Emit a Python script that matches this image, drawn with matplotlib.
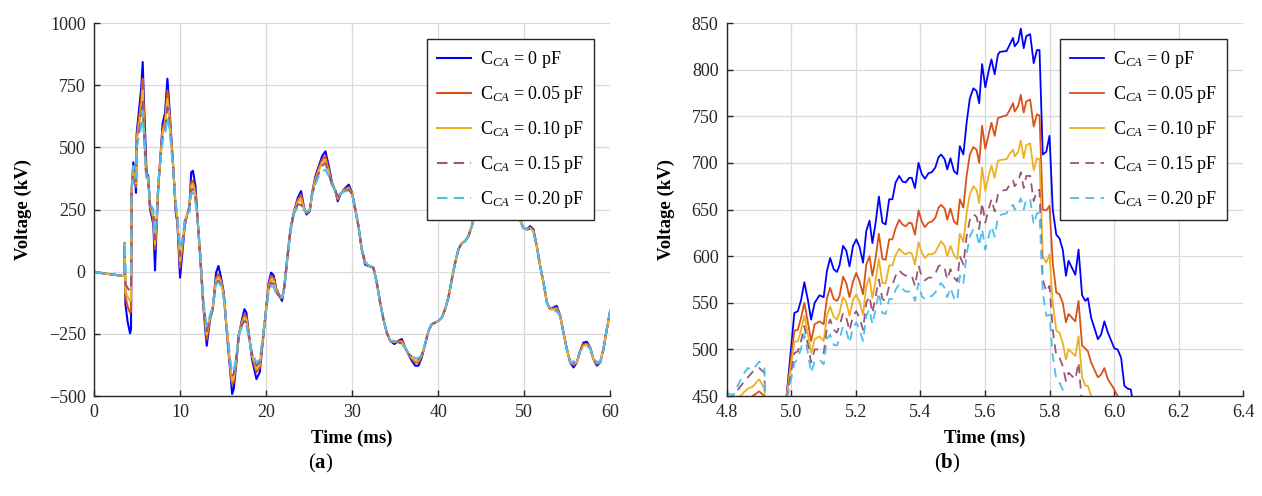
import numpy as np
import matplotlib
matplotlib.use("Agg")
import matplotlib.pyplot as plt

plt.rcParams['font.family'] = ['Liberation Serif', 'DejaVu Serif']
plt.rcParams['mathtext.fontset'] = 'custom'
plt.rcParams['mathtext.rm'] = 'Liberation Serif'
plt.rcParams['mathtext.it'] = 'Liberation Serif:italic'
plt.rcParams['mathtext.bf'] = 'Liberation Serif:bold'
plt.rcParams['axes.unicode_minus'] = True

######################################################################
# (a) full record, time in ms, voltage in kV
T_A = [0.0, 1.1, 3.4, 3.5, 3.57, 3.65, 3.9, 4.19, 4.3, 4.38,
       4.57, 4.75, 4.88, 4.96, 5.16, 5.35, 5.5, 5.66, 5.78, 6.0,
       6.11, 6.3, 6.51, 6.7, 6.9, 7.09, 7.28, 7.48, 7.75, 7.98,
       8.26, 8.53, 8.76, 8.95, 9.23, 9.5, 9.69, 10.0, 10.27, 10.54,
       10.78, 11.09, 11.3, 11.5, 11.79, 12.0, 12.33, 12.7, 13.1, 13.49,
       13.8, 14.19, 14.46, 14.73, 15.08, 15.47, 15.85, 16.05, 16.24, 16.55,
       16.82, 17.21, 17.48, 17.71, 17.98, 18.37, 18.88, 19.26, 19.65, 20.04,
       20.31, 20.58, 20.89, 21.2, 21.59, 21.86, 22.13, 22.44, 22.83, 23.22,
       23.68, 24.07, 24.38, 24.69, 25.08, 25.35, 25.74, 26.12, 26.51, 26.9,
       27.29, 27.67, 28.06, 28.33, 28.64, 29.03, 29.61, 30.0, 30.39, 30.74,
       31.12, 31.51, 31.9, 32.48, 32.87, 33.26, 33.64, 34.03, 34.42, 34.92,
       35.39, 35.78, 36.16, 36.55, 36.94, 37.33, 37.71, 38.1, 38.49, 38.88,
       39.26, 39.65, 40.04, 40.43, 40.81, 41.2, 41.59, 41.98, 42.36, 42.75,
       43.14, 43.53, 43.91, 44.3, 45.0, 46.0, 47.0, 48.0, 49.0, 49.53,
       49.9, 50.3, 50.7, 51.08, 51.47, 51.86, 52.25, 52.64, 53.02, 53.41,
       53.8, 54.19, 54.57, 54.96, 55.35, 55.74, 56.12, 56.51, 56.9, 57.29,
       57.67, 58.06, 58.45, 58.84, 59.22, 59.61, 60.0]

V_A_000 = [0, -7, -17, -18, 115, -130, -200, -248, -230, 330,
           440, 384, 317, 557, 624, 691, 745, 843, 709, 501,
           397, 384, 250, 223, 190, 5, 183, 344, 477, 598,
           638, 776, 664, 557, 410, 237, 197, -24, 76, 183,
           223, 263, 400, 406, 344, 237, 63, -138, -298, -191,
           -151, -4, 23, -17, -84, -258, -405, -492, -472, -365,
           -258, -191, -151, -164, -245, -352, -432, -405, -271, -138,
           -44, -4, -15, -71, -98, -118, -57, 49, 170, 237,
           297, 324, 263, 230, 243, 317, 384, 424, 464, 484,
           424, 357, 324, 283, 310, 330, 350, 317, 250, 183,
           90, 29, 23, 16, -44, -124, -191, -245, -278, -291,
           -278, -271, -305, -332, -358, -378, -378, -345, -291, -238,
           -211, -205, -198, -184, -151, -104, -31, 36, 90, 114,
           123, 143, 183, 237, 300, 380, 420, 380, 270, 210,
           176, 170, 183, 170, 103, 23, -44, -124, -151, -144,
           -138, -178, -245, -311, -365, -385, -365, -318, -285, -282,
           -305, -352, -378, -365, -311, -231, -158]

V_A_005 = [0, -7, -17, -18, 112, -100, -140, -165, -160, 330,
           425, 395, 340, 540, 600, 650, 700, 776, 650, 455,
           390, 380, 260, 235, 210, 90, 200, 350, 470, 575,
           610, 729, 640, 545, 405, 250, 205, 16, 95, 190,
           225, 255, 360, 366, 320, 230, 70, -130, -273, -185,
           -150, -25, -10, -30, -90, -250, -390, -452, -445, -355,
           -255, -200, -171, -180, -250, -340, -405, -385, -265, -140,
           -55, -17, -25, -75, -98, -105, -60, 45, 168, 237,
           290, 310, 260, 235, 245, 315, 375, 415, 450, 464,
           410, 352, 325, 290, 312, 328, 340, 315, 248, 183,
           90, 35, 25, 16, -44, -124, -191, -245, -278, -285,
           -280, -278, -305, -332, -350, -365, -365, -340, -291, -238,
           -211, -205, -198, -184, -151, -104, -31, 36, 90, 114,
           123, 143, 183, 237, 295, 370, 410, 370, 265, 208,
           176, 170, 178, 165, 103, 23, -44, -124, -151, -148,
           -145, -178, -245, -311, -365, -375, -365, -318, -292, -290,
           -305, -352, -372, -365, -311, -231, -158]

V_A_010 = [0, -7, -17, -18, 112, -80, -100, -118, -115, 330,
           425, 398, 355, 525, 575, 615, 660, 729, 600, 430,
           385, 375, 265, 245, 225, 110, 210, 355, 465, 560,
           590, 695, 620, 535, 400, 260, 212, 43, 110, 195,
           228, 250, 345, 352, 305, 225, 75, -125, -253, -180,
           -148, -35, -23, -40, -95, -245, -380, -439, -430, -350,
           -255, -208, -184, -192, -255, -335, -392, -375, -262, -142,
           -65, -31, -38, -80, -100, -104, -62, 42, 165, 235,
           280, 290, 255, 238, 246, 312, 368, 405, 438, 450,
           400, 350, 326, 295, 314, 326, 335, 313, 246, 183,
           90, 38, 25, 16, -44, -124, -191, -245, -278, -282,
           -282, -285, -305, -332, -345, -358, -358, -338, -291, -238,
           -211, -205, -198, -184, -151, -104, -31, 36, 90, 114,
           123, 143, 183, 237, 290, 365, 400, 365, 262, 206,
           176, 170, 175, 162, 103, 23, -44, -124, -151, -152,
           -150, -178, -245, -311, -365, -370, -365, -318, -298, -295,
           -305, -352, -368, -365, -311, -231, -158]

V_A_015 = [0, -7, -17, -18, 112, -50, -65, -78, -75, 330,
           425, 400, 365, 510, 555, 585, 630, 688, 575, 415,
           380, 372, 270, 255, 240, 130, 220, 355, 460, 545,
           570, 662, 600, 525, 395, 268, 218, 63, 120, 200,
           230, 245, 330, 332, 295, 220, 80, -120, -239, -178,
           -146, -45, -37, -50, -100, -240, -370, -418, -412, -345,
           -255, -215, -198, -205, -260, -330, -378, -365, -260, -145,
           -72, -44, -50, -85, -102, -104, -64, 40, 163, 233,
           270, 270, 250, 240, 248, 310, 360, 395, 425, 437,
           392, 348, 327, 300, 315, 324, 330, 311, 244, 183,
           90, 40, 25, 16, -44, -124, -191, -245, -278, -280,
           -284, -290, -305, -332, -340, -352, -352, -336, -291, -238,
           -211, -205, -198, -184, -151, -104, -31, 36, 90, 114,
           123, 143, 183, 237, 285, 360, 395, 360, 260, 204,
           176, 170, 172, 160, 103, 23, -44, -124, -151, -155,
           -155, -178, -245, -311, -365, -365, -365, -318, -302, -300,
           -305, -352, -365, -365, -311, -231, -158]

V_A_020 = [0, -7, -17, -18, 115, -5, -8, -10, -8, 330,
           425, 402, 375, 495, 535, 560, 600, 648, 561, 400,
           378, 370, 275, 262, 250, 150, 230, 355, 455, 530,
           550, 621, 580, 515, 390, 275, 224, 90, 130, 205,
           232, 240, 315, 319, 285, 215, 85, -115, -219, -175,
           -145, -50, -44, -55, -105, -235, -360, -405, -400, -340,
           -255, -222, -211, -215, -265, -325, -365, -355, -258, -148,
           -80, -57, -62, -90, -105, -102, -66, 38, 160, 230,
           260, 257, 248, 242, 250, 308, 352, 385, 405, 410,
           385, 346, 328, 305, 316, 322, 325, 310, 242, 183,
           90, 42, 25, 16, -44, -124, -191, -245, -278, -278,
           -286, -295, -305, -332, -336, -348, -348, -334, -291, -238,
           -211, -205, -198, -184, -151, -104, -31, 36, 90, 114,
           123, 143, 183, 237, 280, 355, 390, 355, 258, 202,
           176, 170, 170, 158, 103, 23, -44, -124, -151, -158,
           -160, -178, -245, -311, -365, -360, -365, -318, -306, -305,
           -305, -352, -362, -365, -311, -231, -158]

######################################################################
# (b) zoom on the first peak
T_B = [4.80, 4.82, 4.85, 4.865, 4.88, 4.90, 4.916, 4.925, 4.96, 4.985,
       5.009, 5.020, 5.030, 5.040, 5.051, 5.061, 5.072, 5.087, 5.100, 5.110,
       5.120, 5.131, 5.141, 5.149, 5.160, 5.170, 5.180, 5.191, 5.201, 5.211,
       5.222, 5.232, 5.242, 5.251, 5.261, 5.271, 5.282, 5.292, 5.303, 5.313,
       5.323, 5.334, 5.344, 5.354, 5.365, 5.373, 5.383, 5.394, 5.404, 5.414,
       5.425, 5.435, 5.446, 5.456, 5.464, 5.475, 5.483, 5.493, 5.504, 5.514,
       5.522, 5.533, 5.543, 5.553, 5.564, 5.574, 5.582, 5.591, 5.601, 5.611,
       5.620, 5.630, 5.640, 5.646, 5.667, 5.677, 5.687, 5.692, 5.703, 5.711,
       5.720, 5.728, 5.740, 5.751, 5.761, 5.769, 5.779, 5.790, 5.800, 5.810,
       5.821, 5.831, 5.841, 5.851, 5.859, 5.880, 5.890, 5.901, 5.911, 5.919,
       5.929, 5.950, 5.960, 5.970, 5.981, 6.001, 6.011, 6.022, 6.032, 6.042,
       6.052, 6.060]

V_B_000 = [420, 424, 430, 434, 437, 440, 436, 380, 380, 450,
           539, 541, 553, 572, 553, 532, 550, 558, 556, 584,
           598, 586, 583, 590, 611, 606, 589, 611, 618, 610,
           593, 627, 638, 614, 636, 664, 636, 634, 661, 661,
           679, 686, 680, 679, 684, 684, 673, 700, 688, 683,
           689, 690, 695, 706, 709, 704, 693, 705, 691, 688,
           718, 709, 743, 769, 780, 777, 764, 806, 781, 798,
           811, 795, 816, 819, 820, 827, 834, 825, 830, 844,
           823, 836, 838, 807, 821, 821, 709, 712, 729, 650,
           623, 619, 607, 579, 595, 580, 607, 558, 552, 555,
           534, 511, 516, 530, 518, 501, 500, 491, 461, 458,
           457, 440]

V_B_005 = [430, 433, 440, 445, 450, 455, 450, 380, 380, 450,
           520, 521, 534, 550, 529, 509, 527, 530, 527, 555,
           566, 554, 552, 557, 578, 571, 556, 573, 582, 573,
           559, 591, 600, 579, 598, 624, 597, 596, 618, 618,
           630, 639, 634, 632, 636, 635, 623, 649, 637, 631,
           636, 637, 641, 652, 655, 651, 639, 651, 637, 634,
           661, 652, 686, 709, 717, 714, 700, 740, 715, 730,
           743, 729, 748, 749, 751, 757, 764, 755, 761, 773,
           754, 766, 768, 739, 752, 751, 650, 649, 654, 593,
           561, 559, 550, 529, 538, 530, 552, 504, 501, 498,
           486, 470, 473, 480, 468, 457, 450, 440, 435, 430,
           428, 425]

V_B_010 = [438, 442, 453, 458, 460, 468, 458, 380, 380, 448,
           508, 509, 521, 536, 516, 496, 511, 514, 509, 536,
           546, 535, 532, 539, 556, 551, 536, 553, 559, 551,
           537, 568, 577, 555, 574, 597, 571, 571, 590, 590,
           601, 608, 604, 602, 604, 603, 591, 615, 604, 598,
           602, 602, 604, 611, 616, 611, 600, 611, 601, 597,
           624, 615, 646, 666, 675, 671, 657, 695, 670, 686,
           697, 684, 702, 703, 704, 710, 714, 707, 712, 724,
           705, 719, 721, 692, 705, 704, 600, 593, 602, 550,
           520, 518, 507, 489, 500, 493, 514, 470, 461, 461,
           450, 440, 435, 430, 425, 420, 415, 410, 405, 400,
           400, 400]

V_B_015 = [445, 450, 464, 470, 476, 480, 475, 380, 380, 446,
           496, 498, 509, 525, 505, 486, 500, 500, 496, 523,
           532, 521, 518, 525, 539, 534, 520, 536, 541, 534,
           521, 550, 557, 539, 557, 575, 554, 552, 568, 569,
           579, 585, 581, 579, 580, 579, 568, 590, 578, 574,
           577, 577, 581, 589, 591, 587, 575, 586, 577, 573,
           600, 591, 621, 639, 645, 642, 629, 657, 636, 650,
           661, 648, 666, 670, 671, 677, 681, 675, 680, 690,
           673, 686, 686, 659, 671, 671, 575, 562, 568, 521,
           493, 491, 482, 466, 475, 468, 486, 440, 435, 430,
           425, 420, 420, 415, 410, 405, 400, 400, 400, 400,
           400, 400]

V_B_020 = [453, 451, 473, 480, 478, 487, 481, 380, 380, 444,
           485, 491, 501, 516, 496, 475, 487, 489, 484, 511,
           516, 505, 504, 511, 525, 520, 507, 523, 529, 521,
           509, 536, 543, 527, 543, 561, 539, 538, 554, 554,
           564, 570, 565, 562, 562, 561, 552, 571, 557, 554,
           557, 557, 561, 568, 571, 566, 556, 566, 555, 552,
           579, 571, 602, 621, 629, 625, 611, 629, 607, 621,
           632, 621, 641, 644, 646, 652, 655, 650, 655, 662,
           650, 661, 661, 634, 646, 646, 561, 536, 537, 493,
           468, 464, 457, 440, 435, 430, 425, 420, 415, 410,
           405, 405, 400, 400, 400, 400, 400, 400, 400, 400,
           400, 400]

LABELS = ['C$_{CA}$ = 0 pF', 'C$_{CA}$ = 0.05 pF', 'C$_{CA}$ = 0.10 pF',
          'C$_{CA}$ = 0.15 pF', 'C$_{CA}$ = 0.20 pF']
COLORS = ['#0000ff', '#d95319', '#edb120', '#9b5577', '#4dbeee']
DASHED = [False, False, False, True, True]

SERIES_A = [V_A_000, V_A_005, V_A_010, V_A_015, V_A_020]
SERIES_B = [V_B_000, V_B_005, V_B_010, V_B_015, V_B_020]


def style_axes(ax):
    for s in ['top', 'right']:
        ax.spines[s].set_visible(False)
    for s in ['left', 'bottom']:
        ax.spines[s].set_linewidth(1.0)
        ax.spines[s].set_color('#262626')
    ax.grid(True, color='#d9d9d9', linewidth=0.9)
    ax.set_axisbelow(True)
    ax.tick_params(direction='in', length=4, width=1.0, labelsize=13,
                   colors='#262626', pad=6)
    ax.set_xlabel('Time (ms)', fontsize=13.5, fontweight='bold', labelpad=6)
    ax.set_ylabel('Voltage (kV)', fontsize=13.5, fontweight='bold', labelpad=12)


def draw(ax, t, series, lw, dash):
    for v, lab, c, d in zip(series, LABELS, COLORS, DASHED):
        line, = ax.plot(t, v, color=c, lw=lw, label=lab)
        if d:
            line.set_dashes(dash)
    leg = ax.legend(loc='upper right', bbox_to_anchor=(0.969, 0.957),
                    borderaxespad=0, fontsize=13, fancybox=False,
                    edgecolor='#262626', framealpha=1, handlelength=1.9,
                    labelspacing=0.78, borderpad=0.55, handletextpad=0.5)
    leg.get_frame().set_linewidth(1.0)
    leg.set_zorder(5)


fig = plt.figure(figsize=(12.62, 4.96), dpi=100)
ax1 = fig.add_axes([0.0745, 0.2016, 0.409, 0.752])
ax2 = fig.add_axes([0.576, 0.2016, 0.409, 0.752])

draw(ax1, T_A, SERIES_A, 1.5, (5, 3))
ax1.set_xlim(0, 60)
ax1.set_ylim(-500, 1000)
ax1.set_xticks(np.arange(0, 61, 10))
ax1.set_yticks(np.arange(-500, 1001, 250))
style_axes(ax1)

draw(ax2, T_B, SERIES_B, 1.3, (5, 3.5))
ax2.set_xlim(4.8, 6.4)
ax2.set_ylim(450, 850)
ax2.set_xticks(np.round(np.arange(4.8, 6.41, 0.2), 1))
ax2.set_xticklabels(['%.1f' % x for x in np.arange(4.8, 6.41, 0.2)])
ax2.set_yticks(np.arange(450, 851, 50))
style_axes(ax2)

fig.text(0.254, 0.066, r'($\mathbf{a}$)', fontsize=15, ha='center', va='center')
fig.text(0.751, 0.066, r'($\mathbf{b}$)', fontsize=15, ha='center', va='center')

fig.savefig('out.png', dpi=100)
